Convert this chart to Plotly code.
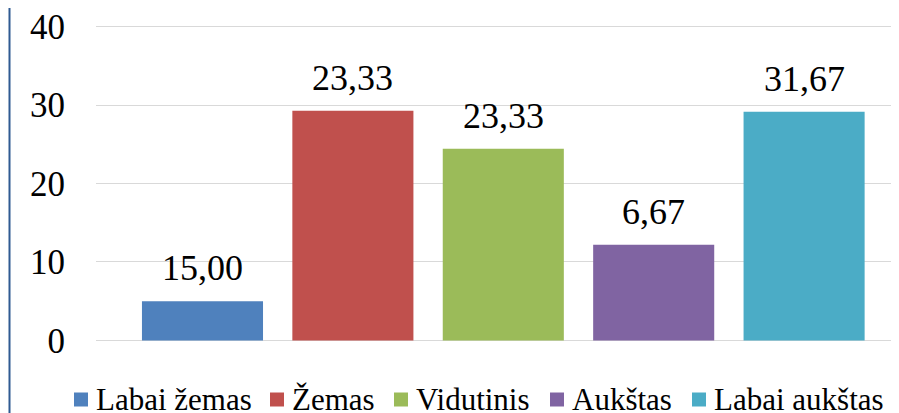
import plotly.graph_objects as go

categories = ["Labai žemas", "Žemas", "Vidutinis", "Aukštas", "Labai aukštas"]
bar_values = [5.0, 29.26, 24.42, 12.19, 29.13]
value_labels = ["15,00", "23,33", "23,33", "6,67", "31,67"]
colors = ["#4F81BD", "#C0504D", "#9BBB59", "#8064A2", "#4BACC6"]
y_ticks = [0, 10, 20, 30, 40]

FONT = "Liberation Serif"
OFF = 8  # page body margin of the host page
W, H = 899 - OFF, 413 - OFF
ML, MR, MT, MB = 96 - OFF, 0, 25 - OFF, 71
PW, PH = W - ML - MR, H - MT - MB

def px_x(page_px):
    return (page_px - OFF - ML) / PW

def px_y(page_py):
    return (H - MB - (page_py - OFF)) / PH

fig = go.Figure()
for cat, val, col in zip(categories, bar_values, colors):
    fig.add_trace(go.Bar(x=[cat], y=[val], name=cat, marker=dict(color=col, line=dict(width=0)),
                         hoverinfo="skip", showlegend=False))

for cat, val, lab in zip(categories, bar_values, value_labels):
    fig.add_annotation(x=cat, y=val, text=lab, showarrow=False, xref="x", yref="y",
                       yanchor="bottom", yshift=11, font=dict(family=FONT, size=36, color="#000000"))

# manual legend (Excel-style compact spacing)
legend_marker_left = [74, 270, 394, 550, 692]
legend_y = 399.5
shapes = []
for cat, col, mx in zip(categories, colors, legend_marker_left):
    shapes.append(dict(type="rect", xref="paper", yref="paper",
                       x0=px_x(mx), x1=px_x(mx + 14), y0=px_y(legend_y + 7), y1=px_y(legend_y - 7),
                       fillcolor=col, line=dict(width=0)))
    fig.add_annotation(x=px_x(mx + 20), y=px_y(legend_y), xref="paper", yref="paper",
                       xanchor="left", yanchor="middle", text=cat, showarrow=False,
                       font=dict(family=FONT, size=31, color="#000000"))

shapes.append(dict(type="line", xref="paper", yref="paper", x0=px_x(9.5), x1=px_x(9.5), y0=-1, y1=2,
                   line=dict(color="#2F5A92", width=2)))

fig.update_layout(
    width=W, height=H,
    margin=dict(l=ML, r=MR, t=MT, b=MB, pad=0, autoexpand=False),
    paper_bgcolor="white", plot_bgcolor="white",
    barmode="overlay", bargap=0.195,
    showlegend=False,
    xaxis=dict(type="category", range=[-0.708, 4.631], showticklabels=False, showgrid=False,
               zeroline=False, showline=False, ticks=""),
    yaxis=dict(range=[-0.2, 40.2], tickvals=y_ticks, ticktext=[str(v) for v in y_ticks],
               showgrid=True, gridcolor="#D9D9D9", gridwidth=1.2, zeroline=False, showline=False,
               ticks="", ticklabelstandoff=30, ticklabeloverflow="allow",
               tickfont=dict(family=FONT, size=35, color="#000000")),
    shapes=shapes,
)

fig.write_html("out.html")
